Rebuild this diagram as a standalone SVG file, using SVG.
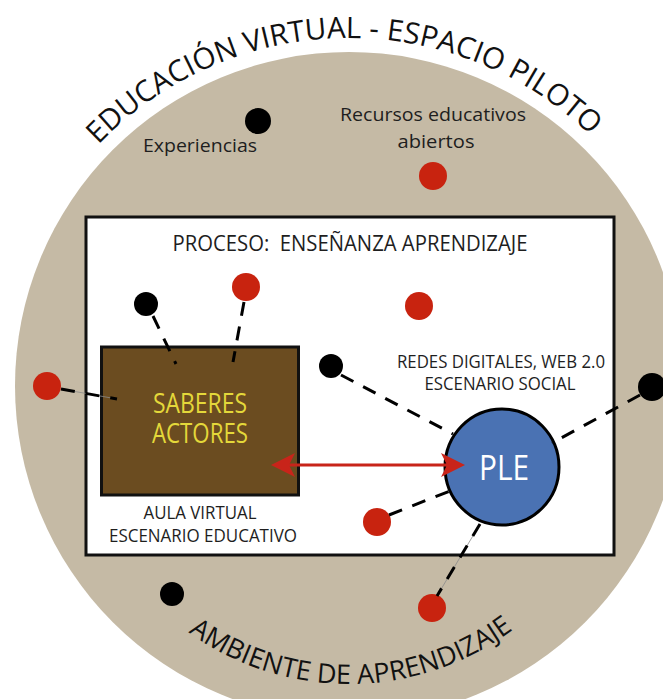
<svg xmlns="http://www.w3.org/2000/svg" width="663" height="699" viewBox="0 0 663 699">
<style>
text{font-family:"Open Sans","Liberation Sans",sans-serif}
.lbl{fill:#1e1e1e;font-size:19px;text-anchor:middle}
.caps{fill:#1e1e1e;font-size:18px;text-anchor:middle}
.arc{fill:#111;font-size:29.5px}
.dotb{fill:#000}
.dotr{fill:#c8230f}
.dash{stroke:#000;stroke-width:3;stroke-dasharray:14 11;fill:none}
.thin{stroke:#8a8a8a;stroke-width:0.8;fill:none}
</style>
<defs>
<path id="arcTop" d="M 1 386 A 348 348 0 0 1 697 386"/>
<path id="arcBot" d="M 74 409 A 275 275 0 0 0 624 409"/>
<marker id="ah" viewBox="0 0 24 24" refX="20" refY="12" markerWidth="24" markerHeight="24" markerUnits="userSpaceOnUse" orient="auto-start-reverse">
<path d="M0 0 L24 12 L0 24 L6 12 Z" fill="#c8241a"/>
</marker>
</defs>
<rect width="663" height="699" fill="#fff"/>
<g id="ambiente">
<circle cx="349" cy="386" r="334" fill="#c5baa5"/>
<text class="arc"><textPath href="#arcTop" startOffset="540" text-anchor="middle">EDUCACIÓN VIRTUAL - ESPACIO PILOTO</textPath></text>
<text class="arc" style="font-size:27px"><textPath href="#arcBot" startOffset="434" text-anchor="middle">AMBIENTE DE APRENDIZAJE</textPath></text>
</g>
<g id="proceso">
<rect x="86" y="217" width="528" height="338" fill="#fff" stroke="#111" stroke-width="3"/>
<text class="lbl" x="350" y="251" style="white-space:pre;font-size:21px" textLength="355" lengthAdjust="spacingAndGlyphs">PROCESO:  ENSEÑANZA APRENDIZAJE</text>
</g>
<g id="aula">
<rect x="101.5" y="347" width="197" height="148" fill="#6b4c20" stroke="#111" stroke-width="3"/>
<text x="200" y="413" fill="#e4d83a" font-size="27" text-anchor="middle" textLength="94" lengthAdjust="spacingAndGlyphs">SABERES</text>
<text x="200" y="443" fill="#e4d83a" font-size="27" text-anchor="middle" textLength="96" lengthAdjust="spacingAndGlyphs">ACTORES</text>
<text class="caps" x="200" y="519" textLength="113" lengthAdjust="spacingAndGlyphs">AULA VIRTUAL</text>
<text class="caps" x="203" y="542" textLength="188" lengthAdjust="spacingAndGlyphs">ESCENARIO EDUCATIVO</text>
</g>
<g id="ple">
<ellipse cx="502" cy="467" rx="57" ry="58" fill="#4a72b3" stroke="#000" stroke-width="3"/>
<text x="504" y="480" fill="#fff" font-size="34" text-anchor="middle" textLength="50" lengthAdjust="spacingAndGlyphs">PLE</text>
</g>
<g id="redes">
<text class="caps" x="501" y="368" textLength="208" lengthAdjust="spacingAndGlyphs">REDES DIGITALES, WEB 2.0</text>
<text class="caps" x="500" y="390" textLength="151" lengthAdjust="spacingAndGlyphs">ESCENARIO SOCIAL</text>
</g>
<g id="experiencias">
<circle class="dotb" cx="258" cy="121" r="13"/>
<text class="lbl" x="200" y="152" textLength="114" lengthAdjust="spacingAndGlyphs">Experiencias</text>
</g>
<g id="recursos">
<text class="lbl" x="433" y="121" textLength="186" lengthAdjust="spacingAndGlyphs">Recursos educativos</text>
<text class="lbl" x="436" y="148" textLength="77" lengthAdjust="spacingAndGlyphs">abiertos</text>
<circle class="dotr" cx="433" cy="176" r="14"/>
</g>
<g id="dots">
<circle class="dotb" cx="146" cy="304" r="12"/>
<circle class="dotr" cx="246" cy="287" r="14"/>
<circle class="dotr" cx="419" cy="306" r="14"/>
<circle class="dotb" cx="331" cy="366" r="12"/>
<circle class="dotr" cx="47" cy="386" r="14"/>
<circle class="dotb" cx="652" cy="387" r="14"/>
<circle class="dotr" cx="377" cy="522" r="14"/>
<circle class="dotb" cx="172" cy="594" r="12"/>
<circle class="dotr" cx="432" cy="608" r="14"/>
</g>
<g id="connectors">
<line class="thin" x1="61" y1="389" x2="117" y2="399"/>
<line class="dash" x1="61" y1="389" x2="117" y2="399"/>
<line class="dash" x1="153" y1="316" x2="176" y2="364"/>
<line class="dash" x1="244" y1="302" x2="233" y2="362"/>
<line class="dash" x1="341" y1="375" x2="453" y2="434"/>
<line class="dash" x1="640" y1="395" x2="552" y2="443"/>
<line class="dash" x1="389" y1="515" x2="450" y2="491"/>
<line class="thin" x1="480" y1="524" x2="437" y2="596"/>
<line class="dash" x1="480" y1="524" x2="437" y2="596"/>
<line x1="275" y1="465" x2="461" y2="465" stroke="#c8241a" stroke-width="3" marker-start="url(#ah)" marker-end="url(#ah)"/>
</g>
</svg>
